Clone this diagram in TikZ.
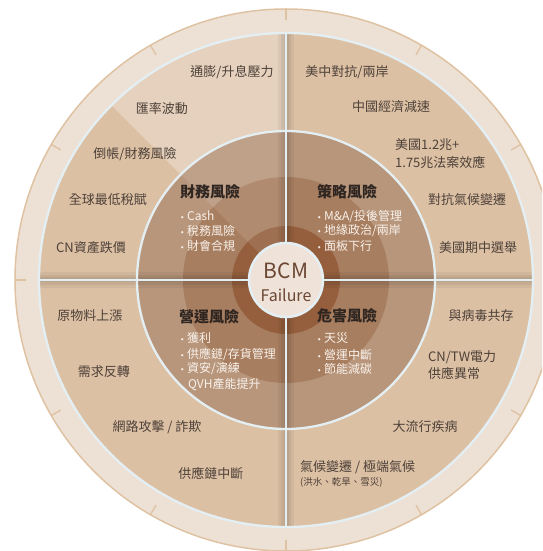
\documentclass[tikz,border=0pt]{standalone}
\usepackage{fontspec}
\setmainfont{Noto Sans CJK TC}
\newfontfamily\bulletfont{DejaVu Sans}
\definecolor{outerband}{HTML}{EDE1D6}
\definecolor{outeredge}{HTML}{DFC2A2}
\definecolor{sepc}{HTML}{E4EFF4}
\definecolor{midA}{HTML}{DCC0A4}
\definecolor{midB}{HTML}{E6CDB4}
\definecolor{midC}{HTML}{E0C4A8}
\definecolor{midD}{HTML}{D4B393}
\definecolor{inA}{HTML}{B8967C}
\definecolor{inB}{HTML}{A87E60}
\definecolor{inC}{HTML}{955F3E}
\definecolor{centerc}{HTML}{EFE3D9}
\definecolor{labelc}{HTML}{4D4139}
\definecolor{titlec}{HTML}{2F2621}
\definecolor{bulc}{HTML}{F8F1EA}
\definecolor{bcmc}{HTML}{6B4733}
\pgfdeclareradialshading{midring}{\pgfpoint{0bp}{0bp}}{%
  color(0bp)=(midA); color(30bp)=(midA); color(38bp)=(midB);
  color(46bp)=(midC); color(49.3bp)=(midD); color(50bp)=(midD); color(80bp)=(midD)}
\tikzset{
  outer/.style={font=\fontsize{13}{17}\selectfont, text=labelc, inner sep=0pt},
  qtitle/.style={font=\bfseries\fontsize{15}{18}\selectfont, text=titlec, anchor=west, inner sep=0pt},
  blt/.style={font=\fontsize{12}{14}\selectfont, text=bulc, anchor=west, inner sep=0pt},
  sepline/.style={draw=sepc, line width=2.3pt},
  tickmark/.style={draw=outeredge, line width=1.4pt},
  sshadow/.style={draw=black, opacity=0.05},
}
\newcommand{\bdot}{{\bulletfont\fontsize{7.5}{7.5}\selectfont •}\hspace{2.5pt}}
\begin{document}
\begin{tikzpicture}[x=1pt,y=1pt]
\useasboundingbox (-286,-271) rectangle (256,280);
\clip (-286,-271) rectangle (256,280);
% outer band
\fill[outerband] (0,0) circle (271);
\draw[outeredge, line width=1.5pt] (0,0) circle (271);
\foreach \a in {0,30,...,330} {
  \draw[tickmark] (\a:271) -- (\a:260);
}
% middle ring
\shade[shading=midring] (0,0) circle (247);
\fill[white, opacity=0.28] (0,0) -- (90:247) arc (90:135:247) -- cycle;
% inner disk
\fill[inA] (0,0) circle (149);
\fill[inB] (0,0) circle (103);
\fill[inC] (0,0) circle (54);
\fill[white, opacity=0.10] (0,0) -- (90:149) arc (90:135:149) -- cycle;
% separator shadows
\begin{scope}
  \clip (0,0) circle (247);
  \foreach \w in {16,10,5} {
    \draw[sshadow, line width=\w pt] (0,-247) -- (0,247);
    \draw[sshadow, line width=\w pt] (-247,0) -- (247,0);
  }
\end{scope}
% separators
\draw[sepline] (0,0) circle (247);
\draw[sepline] (0,0) circle (149);
\coordinate (n1) at (90:36);  \coordinate (n2) at (90:247);
\coordinate (s1) at (270:36); \coordinate (s2) at (270:247);
\coordinate (w1) at (180:36); \coordinate (w2) at (180:247);
\coordinate (e1) at (0:36);   \coordinate (e2) at (0:247);
\draw[sepline] (n1) -- (n2);
\draw[sepline] (s1) -- (s2);
\draw[sepline] (w1) -- (w2);
\draw[sepline] (e1) -- (e2);
% center
\node[circle, minimum size=74pt, fill=centerc, draw=sepc, line width=2.5pt, inner sep=0pt] (core) at (0,0) {};
\node[text=bcmc, font=\fontsize{21}{21}\selectfont, inner sep=0pt] (bcm) at (0,9) {BCM};
\node[text=bcmc, font=\fontsize{16}{16}\selectfont, inner sep=0pt] (fail) at (0,-15) {Failure};
% quadrant titles and bullets
\node[qtitle] (t1) at (-106,88) {財務風險};
\node[blt] (b11) at (-106,64) {\bdot Cash};
\node[blt] (b12) at (-106,49) {\bdot 稅務風險};
\node[blt] (b13) at (-106,34) {\bdot 財會合規};
\node[qtitle] (t2) at (31,88) {策略風險};
\node[blt] (b21) at (31,64) {\bdot M\&A/投後管理};
\node[blt] (b22) at (31,49) {\bdot 地緣政治/兩岸};
\node[blt] (b23) at (31,34) {\bdot 面板下行};
\node[qtitle] (t3) at (-107,-37) {營運風險};
\node[blt] (b31) at (-106,-58) {\bdot 獲利};
\node[blt] (b32) at (-106,-74) {\bdot 供應鏈/存貨管理};
\node[blt] (b33) at (-106,-88) {\bdot 資安/演練};
\node[blt] (b34) at (-98,-105) {QVH產能提升};
\node[qtitle] (t4) at (31,-36) {危害風險};
\node[blt] (b41) at (31,-58) {\bdot 天災};
\node[blt] (b42) at (31,-75) {\bdot 營運中斷};
\node[blt] (b43) at (31,-89) {\bdot 節能減碳};
% outer labels: upper left
\node[outer] (o1) at (-54,208) {通膨/升息壓力};
\node[outer] (o2) at (-124,171) {匯率波動};
\node[outer] (o3) at (-151,126) {倒帳/財務風險};
\node[outer] (o4) at (-178,80) {全球最低稅賦};
\node[outer] (o5) at (-195,32) {CN資產跌價};
% upper right
\node[outer] (o6) at (61,208) {美中對抗/兩岸};
\node[outer] (o7) at (105,173) {中國經濟減速};
\node[outer, anchor=west, align=left, font=\fontsize{13}{18}\selectfont] (o8) at (109,126) {美國1.2兆+\\1.75兆法案效應};
\node[outer] (o9) at (181,80) {對抗氣候變遷};
\node[outer] (o10) at (192,32) {美國期中選舉};
% lower left
\node[outer] (o11) at (-196,-36) {原物料上漲};
\node[outer] (o12) at (-182,-92) {需求反轉};
\node[outer] (o13) at (-129,-147) {網路攻擊 / 詐欺};
\node[outer] (o14) at (-75,-193) {供應鏈中斷};
% lower right
\node[outer] (o15) at (195,-36) {與病毒共存};
\node[outer, anchor=west, align=left, font=\fontsize{13}{16.5}\selectfont] (o16) at (142,-85) {CN/TW電力\\供應異常};
\node[outer] (o17) at (139,-147) {大流行疾病};
\node[outer, anchor=west] (o18) at (14,-187) {氣候變遷 / 極端氣候};
\node[outer, anchor=west, font=\fontsize{9.5}{11}\selectfont] (o19) at (14,-202) {(洪水、乾旱、雪災)};
\end{tikzpicture}
\end{document}
